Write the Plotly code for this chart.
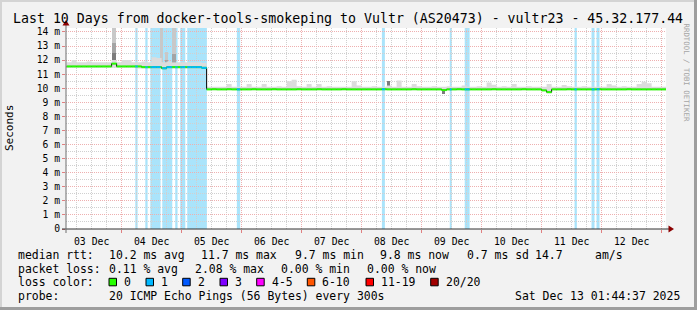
import pandas as pd
import plotly.graph_objects as go

# ---------------- data ----------------
start_time = "2025-12-03 01:44:37"
end_time = "2025-12-13 01:44:37"
first_step = "2025-12-03 02:00"
step_hours = 2

# median RTT per 2-hour step (ms)
median_ms = [
    11.55, 11.55, 11.55, 11.55, 11.55, 11.55, 11.55, 11.55, 11.55, 11.75, 11.55, 11.55,
    11.55, 11.55, 11.55, 11.50, 11.50, 11.50, 11.50, 11.42, 11.50, 11.50, 11.50, 11.50,
    11.50, 11.50, 11.50, 11.45, 9.92, 9.93, 9.92, 9.92, 9.93, 9.92, 9.92, 9.92,
    9.92, 9.93, 9.92, 9.92, 9.92, 9.93, 9.92, 9.92, 9.92, 9.92, 9.93, 9.92,
    9.92, 9.92, 9.93, 9.92, 9.92, 9.92, 9.92, 9.93, 9.92, 9.92, 9.92, 9.92,
    9.92, 9.92, 9.92, 9.93, 9.92, 9.92, 9.92, 9.92, 9.92, 9.93, 9.92, 9.92,
    9.92, 9.92, 9.92, 9.87, 9.92, 9.92, 9.93, 9.92, 9.92, 9.92, 9.92, 9.92,
    9.92, 9.93, 9.92, 9.92, 9.92, 9.92, 9.92, 9.93, 9.92, 9.92, 9.92, 9.85,
    9.72, 9.92, 9.92, 9.92, 9.93, 9.92, 9.92, 9.92, 9.92, 9.92, 9.93, 9.92,
    9.92, 9.92, 9.92, 9.92, 9.93, 9.92, 9.92, 9.92, 9.92, 9.92, 9.92, 9.92,
]

# light smoke envelope per step (ms)
smoke_hi = [
    11.85, 12.00, 11.85, 11.85, 11.90, 11.85, 11.85, 11.85, 11.85, 12.00, 11.85, 12.00,
    12.00, 11.85, 11.85, 11.90, 11.85, 12.20, 12.15, 11.85, 11.90, 11.85, 11.85, 11.85,
    11.85, 11.85, 11.85, 11.80, 10.10, 10.10, 10.10, 10.10, 10.30, 10.10, 10.10, 10.10,
    10.30, 10.10, 10.10, 10.30, 10.10, 10.10, 10.15, 10.10, 10.50, 10.60, 10.15, 10.10,
    10.30, 10.10, 10.30, 10.10, 10.15, 10.10, 10.10, 10.10, 10.10, 10.50, 10.20, 10.10,
    10.10, 10.15, 10.10, 10.10, 10.20, 10.10, 10.55, 10.10, 10.10, 10.30, 10.15, 10.10,
    10.10, 10.15, 10.10, 10.10, 10.15, 10.10, 10.10, 10.20, 10.10, 10.10, 10.15, 10.10,
    10.40, 10.25, 10.10, 10.15, 10.10, 10.30, 10.10, 10.10, 10.15, 10.10, 10.10, 10.10,
    10.30, 10.10, 10.10, 10.23, 10.15, 10.10, 10.10, 10.15, 10.10, 10.10, 10.10, 10.10,
    10.30, 10.20, 10.10, 10.15, 10.10, 10.10, 10.30, 10.47, 10.35, 10.10, 10.10, 10.10,
]
smoke_lo = [
    11.45, 11.45, 11.45, 11.45, 11.45, 11.45, 11.45, 11.45, 11.45, 11.45, 11.45, 11.45,
    11.45, 11.45, 11.40, 11.40, 11.40, 11.40, 11.38, 11.35, 11.40, 11.40, 11.40, 11.40,
    11.40, 11.40, 11.40, 11.38, 9.85, 9.85, 9.85, 9.85, 9.85, 9.85, 9.85, 9.85,
    9.85, 9.85, 9.85, 9.85, 9.85, 9.85, 9.85, 9.85, 9.85, 9.85, 9.85, 9.85,
    9.85, 9.85, 9.85, 9.85, 9.85, 9.85, 9.85, 9.85, 9.85, 9.85, 9.85, 9.85,
    9.85, 9.85, 9.85, 9.85, 9.85, 9.85, 9.85, 9.85, 9.85, 9.85, 9.85, 9.85,
    9.85, 9.85, 9.85, 9.80, 9.85, 9.85, 9.85, 9.85, 9.85, 9.85, 9.85, 9.85,
    9.85, 9.85, 9.85, 9.85, 9.85, 9.85, 9.85, 9.85, 9.85, 9.85, 9.85, 9.78,
    9.65, 9.85, 9.85, 9.85, 9.85, 9.85, 9.85, 9.85, 9.85, 9.85, 9.85, 9.85,
    9.85, 9.85, 9.85, 9.85, 9.85, 9.85, 9.85, 9.85, 9.85, 9.85, 9.85, 9.85,
]

# dense smoke columns (ms)
spike_start = ["2025-12-03 20:10", "2025-12-04 15:43", "2025-12-04 17:25",
               "2025-12-04 20:07", "2025-12-08 10:00", "2025-12-09 08:00"]
spike_end = ["2025-12-03 21:45", "2025-12-04 16:22", "2025-12-04 18:35",
             "2025-12-04 21:50", "2025-12-08 11:20", "2025-12-09 09:15"]
spike_base = [11.70, 11.55, 11.50, 11.50, 10.00, 9.62]
spike_dark_top = [12.50, 11.55, 11.50, 11.90, 10.50, 9.88]
spike_mid_top = [13.20, 11.55, 12.00, 12.40, 10.50, 9.88]
spike_top = [14.50, 14.50, 12.60, 14.50, 10.50, 9.88]

# periods with 1/20 packet loss
loss_start = ["2025-12-04 05:28", "2025-12-04 09:28", "2025-12-04 11:28", "2025-12-04 16:15",
              "2025-12-04 21:26", "2025-12-04 23:26", "2025-12-05 02:14", "2025-12-05 22:05",
              "2025-12-08 08:06", "2025-12-09 11:15", "2025-12-09 17:14", "2025-12-11 13:10",
              "2025-12-11 19:57", "2025-12-11 21:57"]
loss_end = ["2025-12-04 06:23", "2025-12-04 10:23", "2025-12-04 15:34", "2025-12-04 20:15",
            "2025-12-04 22:22", "2025-12-05 01:28", "2025-12-05 10:06", "2025-12-05 23:24",
            "2025-12-08 09:18", "2025-12-09 12:03", "2025-12-09 19:12", "2025-12-11 14:05",
            "2025-12-11 21:09", "2025-12-11 23:09"]

y_ticks = [0, 1, 2, 3, 4, 5, 6, 7, 8, 9, 10, 11, 12, 13, 14]
y_ticktext = ["0"] + [f"{v} m" for v in y_ticks[1:]]

title_text = "Last 10 Days from docker-tools-smokeping to Vultr (AS20473) - vultr23 - 45.32.177.44"
rtt_label = "median rtt:"
rtt_items = ["10.2 ms avg", "11.7 ms max", "9.7 ms min", "9.8 ms now", "0.7 ms sd", "14.7", "am/s"]
loss_label = "packet loss:"
loss_items = ["0.11 % avg", "2.08 % max", "0.00 % min", "0.00 % now"]
color_label = "loss color:"
loss_names = ["0", "1", "2", "3", "4-5", "6-10", "11-19", "20/20"]
probe_label = "probe:"
probe_text = "20 ICMP Echo Pings (56 Bytes) every 300s"
stamp_text = "Sat Dec 13 01:44:37 2025"

# ---------------- styles / layout ----------------
loss_colors = ["#26ff00", "#00b8ff", "#0059ff", "#7e00ff", "#ff00ff", "#ff5500", "#ff0000", "#a10000"]
MONO = "DejaVu Sans Mono"
W, H = 697, 310
L, R, T, B = 66, 31, 28, 81
PW, PH = W - L - R, H - T - B


def px(x):
    return (x - L) / PW


def py(y):
    return (T + PH - y) / PH


steps = pd.date_range(first_step, periods=len(median_ms), freq=f"{step_hours}h")
edges = list(steps) + [steps[-1] + pd.Timedelta(hours=step_hours)]

fig = go.Figure()

# light smoke
fig.add_trace(go.Scatter(x=edges, y=smoke_lo + [smoke_lo[-1]], mode="lines", line=dict(width=0, shape="hv"),
                         showlegend=False, hoverinfo="skip"))
fig.add_trace(go.Scatter(x=edges, y=smoke_hi + [smoke_hi[-1]], mode="lines", line=dict(width=0, shape="hv"),
                         fill="tonexty", fillcolor="#dcdcdc", showlegend=False, hoverinfo="skip"))

# dense smoke columns
s0 = pd.to_datetime(spike_start)
s1 = pd.to_datetime(spike_end)
centers = s0 + (s1 - s0) / 2
widths = [(b - a).total_seconds() * 1000 for a, b in zip(s0, s1)]
tiers = [
    (spike_mid_top, spike_top, "#c8c8c8"),
    (spike_dark_top, spike_mid_top, "#a4a4a4"),
    (spike_base, spike_dark_top, "#7c7c7c"),
]
for lo, hi, col in tiers:
    fig.add_trace(go.Bar(x=centers, y=[h - l for l, h in zip(lo, hi)], base=lo, width=widths,
                         marker=dict(color=col, line=dict(width=0)), showlegend=False,
                         hoverinfo="skip"))

# median: black step connectors, then coloured horizontal pieces
fig.add_trace(go.Scatter(x=edges, y=median_ms + [median_ms[-1]], mode="lines",
                         line=dict(color="#000000", width=1, shape="hv"), showlegend=False, hoverinfo="skip"))
gx, gy = [], []
for i, v in enumerate(median_ms):
    gx += [edges[i], edges[i + 1], None]
    gy += [v, v, None]
fig.add_trace(go.Scatter(x=gx, y=gy, mode="lines", line=dict(color=loss_colors[0], width=2),
                         showlegend=False, hoverinfo="skip"))

bx, by = [], []
for a, b in zip(pd.to_datetime(loss_start), pd.to_datetime(loss_end)):
    pts = [a] + [e for e in edges if a < e < b] + [b]
    for p0, p1 in zip(pts[:-1], pts[1:]):
        k = max(0, min(len(median_ms) - 1, steps.searchsorted(p0, side="right") - 1))
        bx += [p0, p1, None]
        by += [median_ms[k], median_ms[k], None]
fig.add_trace(go.Scatter(x=bx, y=by, mode="lines", line=dict(color=loss_colors[1], width=2),
                         showlegend=False, hoverinfo="skip"))

shapes = []
for a, b in zip(loss_start, loss_end):
    shapes.append(dict(type="rect", xref="x", yref="y domain", x0=a, x1=b, y0=0, y1=1,
                       fillcolor="#aae4fb", line=dict(width=0), layer="below"))

# frame (3D border)
shapes += [
    dict(type="rect", xref="paper", yref="paper", x0=px(0), x1=px(W), y0=py(0), y1=py(2),
         fillcolor="#d4d4d4", line=dict(width=0), layer="below"),
    dict(type="rect", xref="paper", yref="paper", x0=px(0), x1=px(2), y0=py(0), y1=py(H),
         fillcolor="#d4d4d4", line=dict(width=0), layer="below"),
    dict(type="rect", xref="paper", yref="paper", x0=px(0), x1=px(W), y0=py(H - 3), y1=py(H),
         fillcolor="#9e9e9e", line=dict(width=0), layer="above"),
    dict(type="rect", xref="paper", yref="paper", x0=px(W - 3), x1=px(W), y0=py(0), y1=py(H),
         fillcolor="#9e9e9e", line=dict(width=0), layer="above"),
]
# axes lines and arrows
shapes += [
    dict(type="line", xref="paper", yref="paper", x0=px(62), x1=px(670), y0=py(229), y1=py(229),
         line=dict(color="#333333", width=1)),
    dict(type="line", xref="paper", yref="paper", x0=px(66), x1=px(66), y0=py(233), y1=py(24),
         line=dict(color="#6e6e6e", width=1)),
    dict(type="path", xref="paper", yref="paper",
         path=f"M {px(674)} {py(229)} L {px(668.5)} {py(225.5)} L {px(668.5)} {py(232.5)} Z",
         fillcolor="#8b0000", line=dict(width=0)),
    dict(type="path", xref="paper", yref="paper",
         path=f"M {px(66)} {py(20)} L {px(62.5)} {py(25.5)} L {px(69.5)} {py(25.5)} Z",
         fillcolor="#8b0000", line=dict(width=0)),
]


def note(txt, x, y, size, xanchor="left", yanchor="middle", angle=0, color="black"):
    return dict(text=txt, xref="paper", yref="paper", x=px(x), y=py(y), xanchor=xanchor,
                yanchor=yanchor, textangle=angle, showarrow=False,
                font=dict(family=MONO, size=size, color=color))


annotations = [
    note(title_text, 347.5, 18.5, 13.25, xanchor="center"),
    note("Seconds", 10, 128, 11, xanchor="center", angle=-90),
    note("RRDTOOL / TOBI OETIKER", 686.5, 21, 7.4, xanchor="center", yanchor="top", angle=90,
         color="#a6a6a6"),
]

LEG = 11.45


def add_text(txt, x, y):
    annotations.append(note(txt, x, y, LEG))


row_y = [254.5, 268.5, 282, 296]
add_text(rtt_label, 16, row_y[0])
for txt, x in zip(rtt_items, [107.3, 199.3, 293.3, 378.3, 465, 533.3, 593.3]):
    add_text(txt, x, row_y[0])
add_text(loss_label, 16, row_y[1])
for txt, x in zip(loss_items, [107.3, 193.3, 279.3, 365]):
    add_text(txt, x, row_y[1])
add_text(color_label, 16, row_y[2])
box_x = [109, 146, 182.7, 220, 256.7, 307.3, 366, 430.7]
for name, col, bxp in zip(loss_names, loss_colors, box_x):
    shapes.append(dict(type="rect", xref="paper", yref="paper", x0=px(bxp), x1=px(bxp + 7.5),
                       y0=py(278.3), y1=py(285.8), fillcolor=col, line=dict(color="black", width=1)))
    add_text(name, bxp + 13, row_y[2])
add_text(probe_label, 16, row_y[3])
add_text(probe_text, 107.3, row_y[3])
add_text(stamp_text, 513.3, row_y[3])

fig.update_layout(
    width=W, height=H, margin=dict(l=L, r=R, t=T, b=B, pad=0),
    paper_bgcolor="#f2f2f2", plot_bgcolor="#ffffff",
    bargap=0, barmode="overlay", showlegend=False,
    shapes=shapes, annotations=annotations,
    xaxis=dict(type="date", range=[start_time, end_time], tick0="2025-12-03", dtick=86400000,
               ticklabelmode="period", tickformat="%d %b",
               showgrid=True, gridcolor="#eeb0b0", griddash="1px,1px", gridwidth=1,
               minor=dict(dtick=21600000, tick0="2025-12-03", showgrid=True, gridcolor="#d0d0d0",
                          griddash="1px,1px"),
               ticks="outside", ticklen=3, tickcolor="#e08080",
               tickfont=dict(family=MONO, size=9.8, color="black"),
               showline=False, zeroline=False, fixedrange=True),
    yaxis=dict(range=[0, 14.28], tickvals=y_ticks, ticktext=y_ticktext,
               showgrid=True, gridcolor="#eeb0b0", griddash="1px,1px",
               minor=dict(dtick=0.5, tick0=0, showgrid=True, gridcolor="#d0d0d0", griddash="1px,1px"),
               ticks="outside", ticklen=3, tickcolor="#e08080",
               tickfont=dict(family=MONO, size=9.7, color="black"),
               showline=False, zeroline=False, fixedrange=True),
)

fig.write_html("out.html")
